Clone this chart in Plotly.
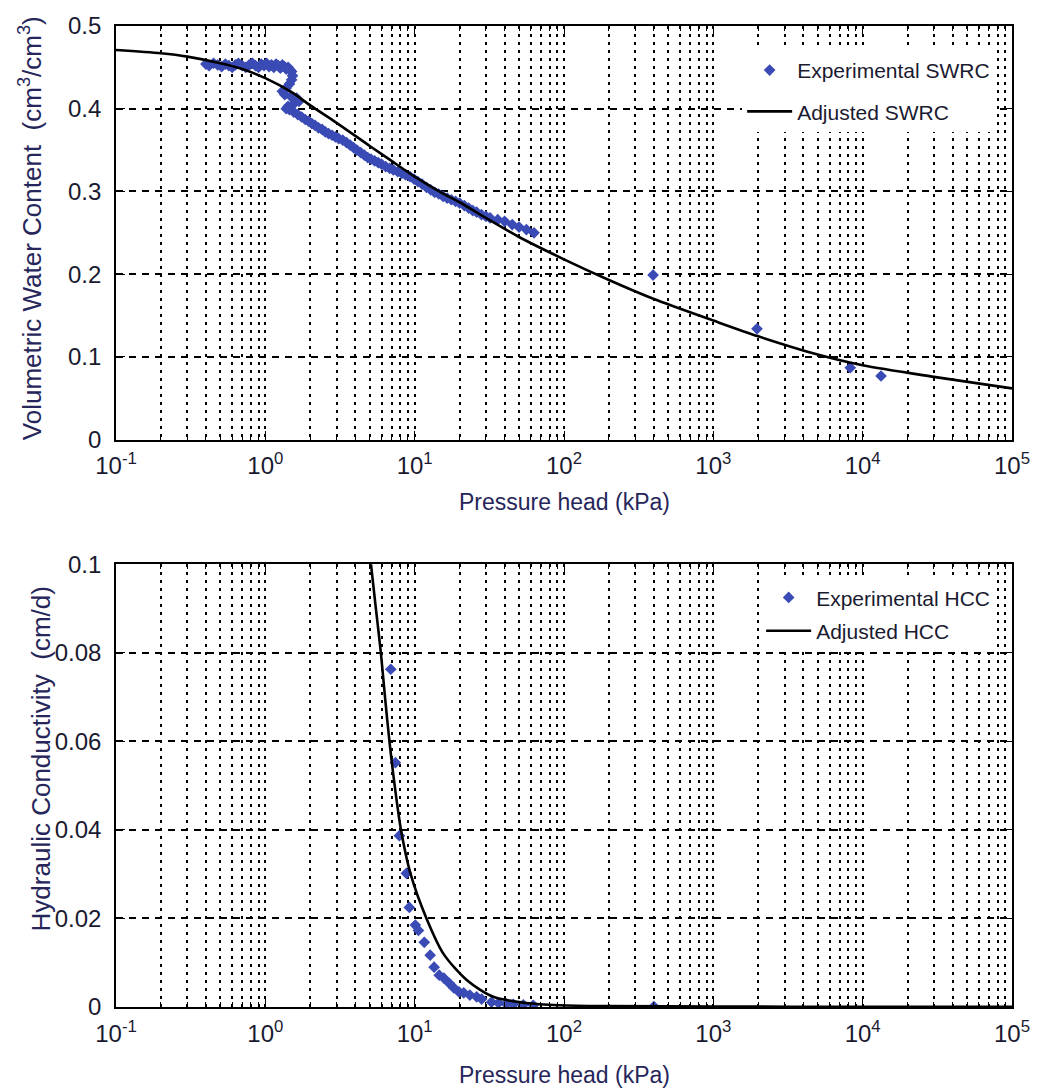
import plotly.graph_objects as go

# ---- Soil water retention: measured points (pressure head kPa, water content cm3/cm3)
swrc_h = [
    0.40, 0.42, 0.45, 0.48, 0.51, 0.54, 0.57, 0.60, 0.63, 0.66, 0.70, 0.74, 0.78, 0.82,
    0.86, 0.90, 0.94, 0.98, 1.02, 1.06, 1.10, 1.14, 1.18, 1.22, 1.26, 1.30, 1.34, 1.38,
    1.42, 1.46,
    1.50, 1.52, 1.50, 1.45, 1.38, 1.30, 1.35, 1.48, 1.62, 1.68, 1.55, 1.42, 1.38,
    1.45, 1.55, 1.65, 1.75, 1.85, 1.95, 2.05, 2.15, 2.27, 2.40, 2.52, 2.65, 2.80, 2.95,
    3.10, 3.30, 3.50, 3.70, 3.90, 4.10, 4.35, 4.60, 4.85, 5.10, 5.40, 5.70, 6.00, 6.40,
    6.80, 7.20, 7.70, 8.20, 8.70, 9.30, 9.90, 10.5, 11.2, 12.0, 12.8, 13.6, 14.5, 15.5,
    16.5, 17.6, 18.8, 20.0, 21.5, 23.0, 24.5, 26.0, 28.0, 30.0, 32.0, 36.0, 40.0, 45.0,
    50.0, 56.0, 63.0,
    395.0, 1960.0, 8260.0, 13270.0,
]
swrc_theta = [
    0.454, 0.452, 0.455, 0.453, 0.451, 0.454, 0.452, 0.450, 0.453, 0.455, 0.452, 0.450,
    0.453, 0.455, 0.452, 0.450, 0.454, 0.452, 0.455, 0.451, 0.453, 0.450, 0.454, 0.452,
    0.449, 0.453, 0.451, 0.448, 0.450, 0.447,
    0.445, 0.440, 0.435, 0.430, 0.425, 0.421, 0.417, 0.415, 0.413, 0.409, 0.406, 0.403,
    0.400,
    0.399, 0.396, 0.393, 0.390, 0.387, 0.385, 0.382, 0.380, 0.377, 0.375, 0.372, 0.370,
    0.368, 0.366, 0.364, 0.362, 0.359, 0.356, 0.353, 0.350, 0.347, 0.344, 0.341, 0.339,
    0.337, 0.335, 0.333, 0.330, 0.328, 0.326, 0.324, 0.322, 0.320, 0.318, 0.315, 0.312,
    0.309, 0.305, 0.302, 0.299, 0.297, 0.294, 0.292, 0.290, 0.288, 0.286, 0.283, 0.280,
    0.277, 0.275, 0.272, 0.270, 0.268, 0.266, 0.264, 0.260, 0.257, 0.254, 0.250,
    0.199, 0.134, 0.087, 0.077,
]

# ---- Fitted retention curve
fit_swrc_h = [0.1, 0.2, 0.3, 0.5, 0.7, 1.0, 1.5, 2.0, 3.0, 5.0, 7.0, 10.0, 15.0, 20.0,
              30.0, 50.0, 100.0, 200.0, 400.0, 1000.0, 2000.0, 5000.0, 10000.0,
              30000.0, 100000.0]
fit_swrc_theta = [0.471, 0.467, 0.463, 0.455, 0.448, 0.437, 0.420, 0.404, 0.383, 0.355,
                  0.337, 0.318, 0.299, 0.287, 0.268, 0.245, 0.218, 0.193, 0.170, 0.144,
                  0.125, 0.103, 0.090, 0.076, 0.062]

# ---- Hydraulic conductivity: measured points (kPa, cm/d)
hcc_h = [6.92, 7.43, 7.90, 8.80, 9.21, 10.1, 10.6, 11.6, 12.7, 13.5, 14.6, 15.7, 17.0,
         18.3, 19.8, 21.3, 23.4, 26.0, 28.1, 32.7, 36.4, 41.1, 45.8, 53.4, 62.2, 400.0]
hcc_k = [0.0763, 0.0552, 0.0387, 0.0302, 0.0225, 0.0185, 0.0173, 0.0146, 0.0117, 0.0090,
         0.0072, 0.0065, 0.0054, 0.0043, 0.0034, 0.0032, 0.0027, 0.0023, 0.0018, 0.0011,
         0.0009, 0.0007, 0.0006, 0.0005, 0.0004, 0.0001]

# ---- Fitted conductivity curve
fit_hcc_h = [4.75, 5.1, 5.5, 5.94, 6.33, 6.78, 7.35, 8.1, 9.4, 12.0, 15.6, 22.3, 33.6,
             55.8, 93.0, 200.0, 1000.0, 10000.0, 100000.0]
fit_hcc_k = [0.110, 0.100, 0.090, 0.080, 0.070, 0.060, 0.050, 0.040, 0.030, 0.020,
             0.0120, 0.0061, 0.0023, 0.0009, 0.0004, 0.0002, 0.0001, 0.00005, 0.00002]

# ---- Tick labels
x_tick_vals = [0.1, 1, 10, 100, 1000, 10000, 100000]
x_tick_text = ["10<sup>-1</sup>", "10<sup>0</sup>", "10<sup>1</sup>", "10<sup>2</sup>",
               "10<sup>3</sup>", "10<sup>4</sup>", "10<sup>5</sup>"]
theta_tick_vals = [0, 0.1, 0.2, 0.3, 0.4, 0.5]
theta_tick_text = ["0", "0.1", "0.2", "0.3", "0.4", "0.5"]
k_tick_vals = [0, 0.02, 0.04, 0.06, 0.08, 0.1]
k_tick_text = ["0", "0.02", "0.04", "0.06", "0.08", "0.1"]

# minor decades 2..9 for the log grid
decades = [0.1, 1, 10, 100, 1000, 10000]
minor_vals = [m * d for d in decades for m in range(2, 10)]

FONT = "Liberation Sans, Arial, sans-serif"
TXT = "#1a1a30"
TITLE = "#26265a"
BLUE = "#3a4bb5"

fig = go.Figure()

fig.add_trace(go.Scatter(
    x=swrc_h, y=swrc_theta, mode="markers", name="Experimental SWRC",
    marker=dict(symbol="diamond", size=9, color=BLUE),
    xaxis="x", yaxis="y", legend="legend", legendgroup="a"))
fig.add_trace(go.Scatter(
    x=fit_swrc_h, y=fit_swrc_theta, mode="lines", name="Adjusted SWRC",
    line=dict(color="black", width=2.6, shape="spline", smoothing=0.8),
    xaxis="x", yaxis="y", legend="legend", legendgroup="b"))

fig.add_trace(go.Scatter(
    x=hcc_h, y=hcc_k, mode="markers", name="Experimental HCC",
    marker=dict(symbol="diamond", size=9, color=BLUE),
    xaxis="x2", yaxis="y2", legend="legend2", legendgroup="c"))
fig.add_trace(go.Scatter(
    x=fit_hcc_h, y=fit_hcc_k, mode="lines", name="Adjusted HCC",
    line=dict(color="black", width=2.6, shape="spline", smoothing=0.8),
    xaxis="x2", yaxis="y2", legend="legend2", legendgroup="d"))


def x_axis(anchor):
    return dict(
        type="log", range=[-1, 5], anchor=anchor,
        tickmode="array", tickvals=x_tick_vals, ticktext=x_tick_text,
        ticks="inside", ticklen=9, tickwidth=1, tickcolor="black",
        showline=True, linecolor="black", linewidth=1.6, mirror="ticks",
        showgrid=True, gridcolor="black", gridwidth=1.5, griddash="3px,5px",
        zeroline=False,
        minor=dict(tickmode="array", tickvals=minor_vals, ticks="inside", ticklen=5,
                   tickwidth=1, tickcolor="black", showgrid=True, gridcolor="black",
                   gridwidth=1.5, griddash="3px,5px"),
        tickfont=dict(family=FONT, size=24, color=TXT),
        ticklabelstandoff=4,
    )


def y_axis(anchor, domain, rng, vals, text):
    return dict(
        range=rng, domain=domain, anchor=anchor,
        tickmode="array", tickvals=vals, ticktext=text,
        ticks="inside", ticklen=9, tickwidth=1, tickcolor="black",
        showline=True, linecolor="black", linewidth=1.6, mirror="ticks",
        showgrid=True, gridcolor="black", gridwidth=1.5, griddash="7px,6px",
        zeroline=False,
        tickfont=dict(family=FONT, size=24, color=TXT),
        ticklabelstandoff=8,
    )


W, H = 1042, 1090
ML, MR, MT, MB = 116, 22, 23, 83
plot_h = H - MT - MB
plot_w = W - ML - MR


def py(pix):
    return (H - MB - pix) / plot_h


def px(pix):
    return (pix - ML) / plot_w


fig.update_layout(
    width=W, height=H,
    margin=dict(l=ML, r=MR, t=MT, b=MB),
    paper_bgcolor="white", plot_bgcolor="white",
    font=dict(family=FONT, color=TXT),
    xaxis=x_axis("y"),
    yaxis=y_axis("x", [py(438), 1.0], [0, 0.5], theta_tick_vals, theta_tick_text),
    xaxis2=x_axis("y2"),
    yaxis2=y_axis("x2", [0.0, py(563)], [0, 0.1], k_tick_vals, k_tick_text),
    legend=dict(x=px(1003), xanchor="right", y=py(47), yanchor="top",
                bgcolor="white", borderwidth=0, tracegroupgap=11, itemwidth=45,
                font=dict(family=FONT, size=21, color=TXT)),
    legend2=dict(x=px(1003), xanchor="right", y=py(576), yanchor="top",
                 bgcolor="white", borderwidth=0, tracegroupgap=3, itemwidth=45,
                 font=dict(family=FONT, size=21, color=TXT)),
    showlegend=True,
)

annots = [
    dict(text="Pressure head (kPa)", x=0.5, y=py(500)),
    dict(text="Pressure head (kPa)", x=0.5, y=py(1075)),
]
for a in annots:
    fig.add_annotation(xref="paper", yref="paper", showarrow=False,
                       xanchor="center", yanchor="middle",
                       font=dict(family=FONT, size=23, color=TITLE), **a)

fig.add_annotation(text="Volumetric Water Content  (cm<sup>3</sup>/cm<sup>3</sup>)",
                   xref="paper", yref="paper", x=px(30), y=py(226), textangle=-90,
                   showarrow=False, xanchor="center", yanchor="middle",
                   font=dict(family=FONT, size=26, color=TITLE))
fig.add_annotation(text="Hydraulic Conductivity  (cm/d)",
                   xref="paper", yref="paper", x=px(40), y=py(758), textangle=-90,
                   showarrow=False, xanchor="center", yanchor="middle",
                   font=dict(family=FONT, size=26, color=TITLE))

fig.write_html("out.html")
